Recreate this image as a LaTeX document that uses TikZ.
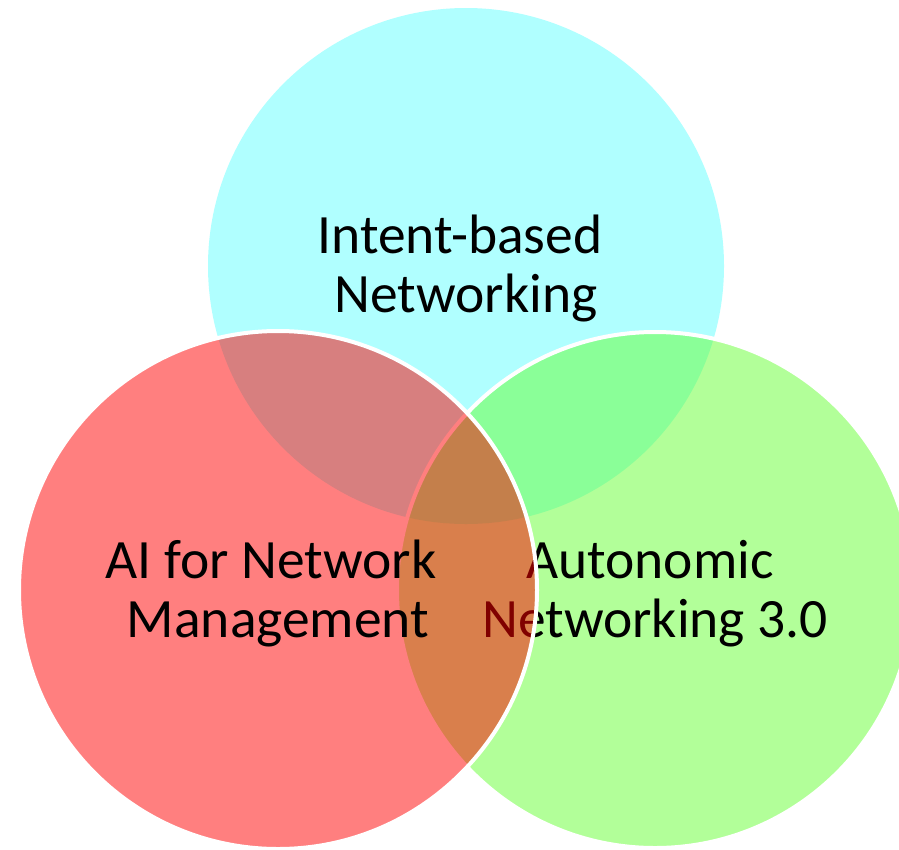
\documentclass[tikz,border=0pt]{standalone}
\usepackage{fontspec}
\setmainfont{Carlito}
\definecolor{cyanfill}{RGB}{176,255,255}
\definecolor{greenfill}{RGB}{102,255,51}
\definecolor{redfill}{RGB}{255,0,0}
\tikzset{
  venn/.style={circle, inner sep=0pt, outer sep=0pt, minimum size=#1},
  lbl/.style={anchor=base, inner sep=0pt, font=\fontsize{55.5}{59}\selectfont, text=black},
}
\begin{document}
\begin{tikzpicture}[x=1pt, y=-1pt]
\useasboundingbox (0,0) rectangle (899,849);
% cyan circle
\node (cy) [venn=516pt, fill=cyanfill] at (466,266) {};
\node (cyt1) [lbl] at (460,253) {Intent-based};
\node (cyt2) [lbl] at (466,312) {Networking};
% green circle
\node (gr) [venn=516pt, fill=greenfill, fill opacity=0.5, draw=white, line width=4pt] at (655,590) {};
\node (grt1) [lbl] at (650,578) {Autonomic};
\node (grt2) [lbl] at (655,637) {Networking 3.0};
% red circle
\node (rd) [venn=518pt, fill=redfill, fill opacity=0.5, draw=white, line width=4pt] at (278,590) {};
\node (rdt1) [lbl] at (271,578) {AI for Network};
\node (rdt2) [lbl] at (278,637) {Management};
\end{tikzpicture}
\end{document}
